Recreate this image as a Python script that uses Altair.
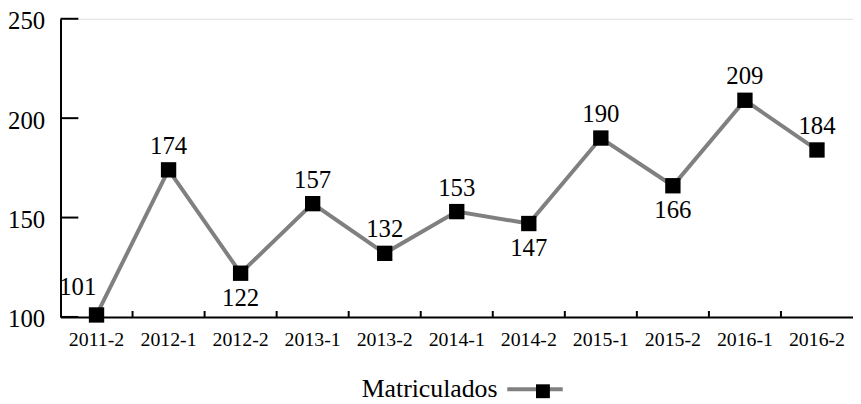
import altair as alt
import pandas as pd

categories = ["2011-2", "2012-1", "2012-2", "2013-1", "2013-2", "2014-1",
              "2014-2", "2015-1", "2015-2", "2016-1", "2016-2"]
matriculados = [101, 174, 122, 157, 132, 153, 147, 190, 166, 209, 184]
label_side = ["upper-left", "above", "below", "above", "above", "above",
              "below", "above", "below", "above", "above"]
y_ticks = [100, 150, 200, 250]
series_name = "Matriculados"

FONT = "Liberation Serif, DejaVu Serif, serif"
LINE_GRAY = "#808080"

df = pd.DataFrame({
    "periodo": categories,
    "valor": matriculados,
    "lado": label_side,
    "serie": [series_name] * len(categories),
    "serie_p": [series_name] * len(categories),
})
ticks_x = pd.DataFrame({"periodo": categories[1:]})
ticks_y = pd.DataFrame({"valor": y_ticks})

xscale = alt.Scale(type="band", domain=categories, paddingInner=0, paddingOuter=0)
yscale = alt.Scale(domain=[100, 250], nice=False, zero=False)

x_axis = alt.Axis(title=None, labelAngle=0, ticks=False, domainColor="black",
                  domainWidth=2, labelFont=FONT, labelFontSize=20,
                  labelColor="black", labelPadding=13, grid=False,
                  bandPosition=0.5)
y_axis = alt.Axis(title=None, values=y_ticks, ticks=False, domainColor="black",
                  domainWidth=2, labelFont=FONT, labelFontSize=25,
                  labelColor="black", labelPadding=16, grid=False,
                  labelOffset=2)

base = alt.Chart(df)

line = base.mark_line(strokeWidth=4).encode(
    x=alt.X("periodo:N", scale=xscale, axis=x_axis, sort=categories),
    y=alt.Y("valor:Q", scale=yscale, axis=y_axis),
    stroke=alt.Stroke("serie:N", scale=alt.Scale(range=[LINE_GRAY]),
                      legend=alt.Legend(title=series_name, orient="none",
                                        legendX=304, legendY=365,
                                        titleOrient="left", titleFont=FONT,
                                        titleFontSize=26, titleFontWeight="normal",
                                        titleColor="black", titlePadding=28,
                                        titleBaseline="middle",
                                        labelExpr="''",
                                        symbolType="M-4,0H4",
                                        symbolSize=196, symbolStrokeWidth=4,
                                        symbolStrokeColor=LINE_GRAY,
                                        symbolOpacity=1)),
)

points = base.mark_square(size=240, opacity=1).encode(
    x=alt.X("periodo:N", scale=xscale, sort=categories),
    y=alt.Y("valor:Q", scale=yscale),
    fill=alt.Fill("serie_p:N", scale=alt.Scale(range=["black"]),
                  legend=alt.Legend(title=None, orient="none",
                                    legendX=480, legendY=369,
                                    labelExpr="''", symbolType="square",
                                    symbolSize=196, symbolStrokeWidth=0)),
)

def labels(side, dx, dy):
    return base.transform_filter(alt.datum.lado == side).mark_text(
        font=FONT, fontSize=25, color="black", dx=dx, dy=dy, baseline="middle"
    ).encode(
        x=alt.X("periodo:N", scale=xscale, sort=categories),
        y=alt.Y("valor:Q", scale=yscale),
        text="valor:Q",
    )

lab_above = labels("above", 0, -24)
lab_below = labels("below", 0, 25)
lab_ul = labels("upper-left", -19, -28)

xticks = alt.Chart(ticks_x).mark_rule(color="black", strokeWidth=2).encode(
    x=alt.X("periodo:N", scale=xscale, bandPosition=0, sort=categories),
    y=alt.value(301),
    y2=alt.value(295),
)
yticks = alt.Chart(ticks_y).mark_rule(color="black", strokeWidth=2).encode(
    y=alt.Y("valor:Q", scale=yscale),
    x=alt.value(0),
    x2=alt.value(18),
)

chart = alt.layer(line, points, xticks, yticks, lab_above, lab_below, lab_ul).properties(
    width=800, height=301,
    padding={"left": 53, "top": 9, "right": 0, "bottom": 86},
    autosize=alt.AutoSizeParams(type="none"),
).configure_view(stroke=None).configure(background="white")

chart.save("out.html", embed_options={"renderer": "svg", "actions": False})
